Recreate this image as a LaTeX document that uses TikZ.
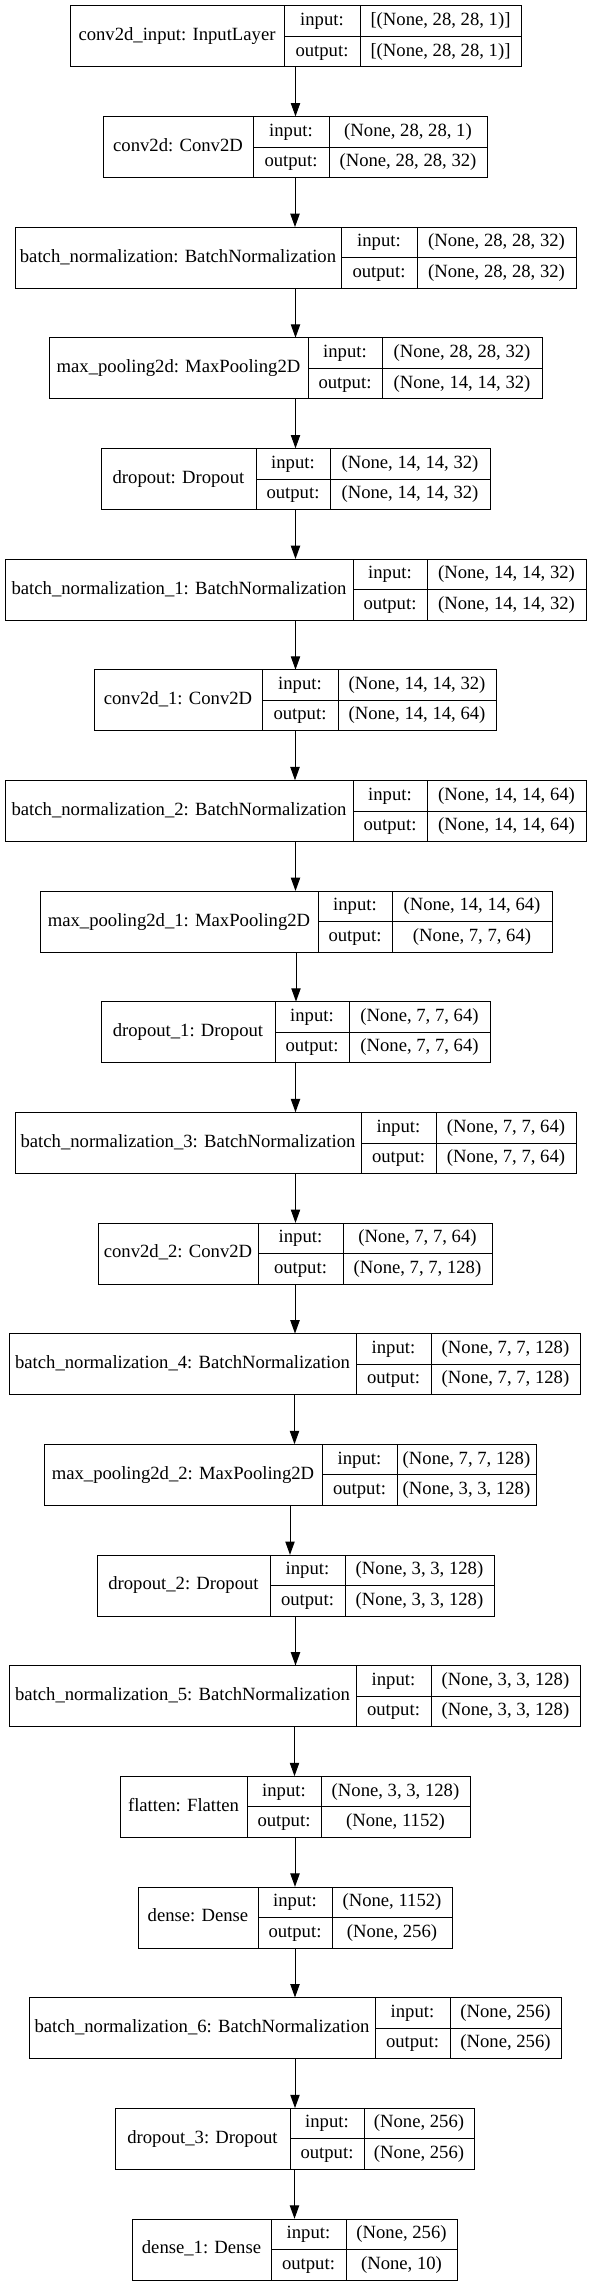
\documentclass[tikz,border=0pt]{standalone}
\usepackage{fontspec}
\setmainfont{Liberation Serif}
\usetikzlibrary{
	arrows.meta,
	positioning,
	fit
}

\begin{document}
\begin{tikzpicture}[x=0.75pt, y=-0.75pt,
	cell/.style={draw, line width=0.75pt, inner sep=0pt, outer sep=0pt, anchor=north west,
		text height=9.5pt, text depth=3pt, font=\fontsize{14}{16}\selectfont},
	flow/.style={-{Triangle[length=10pt, width=7pt]}, line width=0.75pt}
]
	\useasboundingbox (0,0) rectangle (591,2287);
	\foreach \i/\l/\da/\db/\r/\name/\inp/\outp in {
		0/70/284/360/521/{conv2d\_input: InputLayer}/{[(None, 28, 28, 1)]}/{[(None, 28, 28, 1)]},
		1/103/253/329/487/{conv2d: Conv2D}/{(None, 28, 28, 1)}/{(None, 28, 28, 32)},
		2/15/341/417/576/{batch\_normalization: BatchNormalization}/{(None, 28, 28, 32)}/{(None, 28, 28, 32)},
		3/49/308/382/542/{max\_pooling2d: MaxPooling2D}/{(None, 28, 28, 32)}/{(None, 14, 14, 32)},
		4/101/256/330/490/{dropout: Dropout}/{(None, 14, 14, 32)}/{(None, 14, 14, 32)},
		5/5/353/427/586/{batch\_normalization\_1: BatchNormalization}/{(None, 14, 14, 32)}/{(None, 14, 14, 32)},
		6/94/262/338/496/{conv2d\_1: Conv2D}/{(None, 14, 14, 32)}/{(None, 14, 14, 64)},
		7/5/353/427/586/{batch\_normalization\_2: BatchNormalization}/{(None, 14, 14, 64)}/{(None, 14, 14, 64)},
		8/40/318/392/552/{max\_pooling2d\_1: MaxPooling2D}/{(None, 14, 14, 64)}/{(None, 7, 7, 64)},
		9/101/275/349/490/{dropout\_1: Dropout}/{(None, 7, 7, 64)}/{(None, 7, 7, 64)},
		10/15/361/436/576/{batch\_normalization\_3: BatchNormalization}/{(None, 7, 7, 64)}/{(None, 7, 7, 64)},
		11/98/258/343/492/{conv2d\_2: Conv2D}/{(None, 7, 7, 64)}/{(None, 7, 7, 128)},
		12/9/356/431/580/{batch\_normalization\_4: BatchNormalization}/{(None, 7, 7, 128)}/{(None, 7, 7, 128)},
		13/44/322/397/536/{max\_pooling2d\_2: MaxPooling2D}/{(None, 7, 7, 128)}/{(None, 3, 3, 128)},
		14/97/270/345/494/{dropout\_2: Dropout}/{(None, 3, 3, 128)}/{(None, 3, 3, 128)},
		15/9/356/431/580/{batch\_normalization\_5: BatchNormalization}/{(None, 3, 3, 128)}/{(None, 3, 3, 128)},
		16/120/247/321/470/{flatten: Flatten}/{(None, 3, 3, 128)}/{(None, 1152)},
		17/138/258/332/452/{dense: Dense}/{(None, 1152)}/{(None, 256)},
		18/29/375/450/561/{batch\_normalization\_6: BatchNormalization}/{(None, 256)}/{(None, 256)},
		19/115/290/364/474/{dropout\_3: Dropout}/{(None, 256)}/{(None, 256)},
		20/132/271/346/457/{dense\_1: Dense}/{(None, 256)}/{(None, 10)}
	}{
		\node[cell, minimum width={(\da-\l)*0.75pt}, minimum height=45.75pt] (name\i) at (\l,{6+110.65*\i}) {\name};
		\node[cell, minimum width={(\db-\da)*0.75pt}, minimum height=22.875pt] (inkey\i) at (name\i.north east) {input:};
		\node[cell, minimum width={(\db-\da)*0.75pt}, minimum height=22.875pt] (outkey\i) at (inkey\i.south west) {output:};
		\node[cell, minimum width={(\r-\db)*0.75pt}, minimum height=22.875pt] (inval\i) at (inkey\i.north east) {\inp};
		\node[cell, minimum width={(\r-\db)*0.75pt}, minimum height=22.875pt] (outval\i) at (inval\i.south west) {\outp};
		\node[fit=(name\i)(outval\i), inner sep=0pt] (L\i) {};
	}
	% arrows between layers
	\foreach \i [count=\j from 1] in {0,...,19}
		\draw[flow] (L\i.south) -- (L\i.south |- L\j.north);
\end{tikzpicture}
\end{document}
